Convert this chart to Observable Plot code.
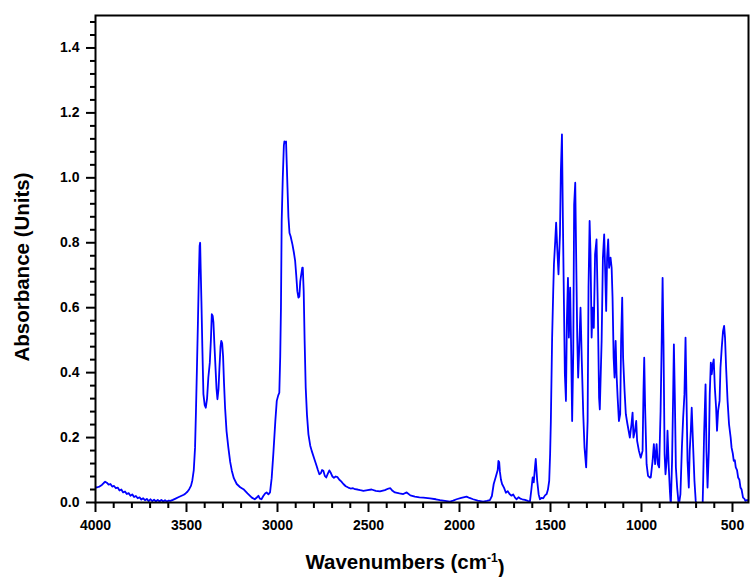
<!DOCTYPE html>
<html>
<head>
<meta charset="utf-8">
<script src="https://cdn.jsdelivr.net/npm/d3@7"></script>
<script src="https://cdn.jsdelivr.net/npm/@observablehq/plot@0.6"></script>
<style>
  html, body { margin: 0; padding: 0; background: white; }
  #chart { width: 750px; height: 577px; }
</style>
</head>
<body>
<div id="chart"></div>
<script>
// Spectrum values (wavenumber in cm-1, absorbance)
const wavenumber = [
  4000,3990,3978,3965,3955,3947,3938,3928,3918,3908,3898,3888,3878,3868,3858,3848,3838,3828,3818,3808,
  3798,3788,3778,3768,3758,3748,3738,3728,3718,3708,3698,3688,3678,3668,3658,3648,3638,3628,3618,3608,
  3598,3588,3575,3560,3545,3530,3515,3505,3495,3485,3475,3468,3460,3453,3448,3443,3437,3432,3428,3425,
  3422,3418,3413,3407,3400,3394,3387,3380,3372,3366,3361,3356,3352,3347,3341,3335,3330,3324,3319,3313,
  3309,3304,3299,3294,3288,3280,3270,3260,3251,3240,3224,3205,3187,3165,3141,3125,3112,3105,3097,3088,
  3078,3068,3060,3050,3041,3032,3023,3012,3004,2996,2990,2985,2981,2977,2971,2965,2962,2958,2953,2949,
  2945,2940,2934,2928,2918,2910,2903,2897,2891,2885,2880,2875,2870,2864,2861,2856,2851,2845,2838,2830,
  2820,2812,2798,2788,2778,2770,2762,2755,2748,2740,2732,2724,2715,2706,2698,2690,2680,2670,2660,2650,
  2638,2625,2611,2598,2585,2574,2560,2545,2528,2505,2483,2460,2437,2410,2390,2380,2368,2355,2330,2309,
  2290,2270,2245,2220,2199,2162,2130,2107,2080,2052,2035,2016,1990,1961,1945,1925,1900,1870,1850,1833,
  1822,1812,1800,1790,1786,1782,1778,1772,1766,1755,1745,1735,1725,1714,1705,1695,1686,1676,1666,1655,
  1640,1625,1613,1605,1598,1592,1585,1581,1577,1573,1565,1558,1550,1540,1530,1521,1514,1507,1502,1498,
  1491,1485,1481,1474,1469,1463,1456,1448,1443,1437,1432,1426,1421,1415,1410,1404,1399,1392,1386,1381,
  1375,1370,1364,1359,1353,1348,1342,1335,1328,1320,1313,1304,1296,1291,1285,1280,1274,1269,1262,1255,
  1247,1240,1233,1229,1219,1212,1205,1200,1194,1189,1183,1178,1170,1164,1159,1153,1148,1142,1137,1131,
  1124,1117,1112,1106,1101,1093,1086,1077,1064,1055,1049,1044,1036,1029,1024,1014,1004,994,989,985,
  980,972,964,954,949,939,932,925,917,910,903,895,890,884,879,873,868,862,857,850,
  844,839,832,826,822,817,811,804,795,786,778,771,764,758,753,747,740,735,729,724,
  716,709,702,690,675,664,661,656,648,643,637,630,625,619,614,608,603,597,590,585,
  579,571,566,559,552,546,541,535,527,519,510,505,498,493,487,482,475,469,462,456,
  450,442,435,429,420,412
];
const absorbance = [
  0.046,0.047,0.049,0.054,0.060,0.064,0.061,0.055,0.057,0.049,0.051,0.044,0.046,0.037,0.040,0.031,0.034,0.026,0.029,0.021,
  0.025,0.017,0.020,0.013,0.016,0.009,0.013,0.007,0.011,0.004,0.010,0.004,0.009,0.003,0.008,0.003,0.008,0.003,0.007,0.003,
  0.006,0.005,0.008,0.012,0.016,0.020,0.024,0.028,0.033,0.041,0.052,0.068,0.100,0.169,0.280,0.405,0.560,0.700,0.790,0.800,
  0.720,0.620,0.480,0.334,0.300,0.292,0.320,0.385,0.430,0.500,0.580,0.575,0.555,0.490,0.420,0.350,0.318,0.350,0.415,0.480,
  0.498,0.490,0.450,0.370,0.292,0.220,0.169,0.125,0.098,0.075,0.057,0.047,0.041,0.028,0.015,0.010,0.016,0.021,0.012,0.010,
  0.020,0.028,0.031,0.025,0.031,0.075,0.149,0.250,0.313,0.330,0.338,0.450,0.600,0.867,1.000,1.100,1.112,1.108,1.112,1.040,
  0.969,0.880,0.830,0.820,0.795,0.770,0.744,0.700,0.651,0.631,0.634,0.680,0.700,0.723,0.723,0.650,0.500,0.354,0.270,0.210,
  0.175,0.159,0.135,0.118,0.100,0.087,0.090,0.100,0.098,0.082,0.077,0.088,0.099,0.090,0.080,0.076,0.080,0.078,0.070,0.065,
  0.057,0.050,0.046,0.043,0.044,0.041,0.040,0.038,0.036,0.038,0.040,0.036,0.034,0.038,0.043,0.044,0.036,0.031,0.028,0.026,
  0.031,0.022,0.018,0.016,0.015,0.013,0.010,0.007,0.005,0.003,0.006,0.010,0.014,0.018,0.014,0.010,0.006,0.003,0.005,0.007,
  0.020,0.057,0.080,0.100,0.128,0.125,0.095,0.070,0.057,0.045,0.030,0.035,0.026,0.021,0.025,0.015,0.010,0.016,0.012,0.010,
  0.008,0.005,0.003,0.040,0.077,0.062,0.110,0.134,0.100,0.067,0.025,0.010,0.014,0.013,0.022,0.026,0.040,0.067,0.150,0.251,
  0.508,0.650,0.734,0.805,0.862,0.785,0.703,0.826,1.021,1.134,0.877,0.610,0.395,0.313,0.559,0.692,0.508,0.662,0.457,0.251,
  0.457,0.918,0.985,0.764,0.508,0.385,0.477,0.600,0.436,0.272,0.169,0.108,0.251,0.662,0.867,0.764,0.508,0.600,0.538,0.764,
  0.810,0.600,0.323,0.287,0.498,0.754,0.826,0.723,0.590,0.754,0.810,0.723,0.754,0.723,0.631,0.446,0.385,0.498,0.395,0.323,
  0.251,0.272,0.498,0.631,0.446,0.344,0.272,0.241,0.200,0.241,0.277,0.200,0.221,0.251,0.190,0.159,0.138,0.159,0.344,0.446,
  0.292,0.118,0.082,0.077,0.077,0.128,0.180,0.118,0.180,0.118,0.108,0.282,0.457,0.692,0.487,0.149,0.087,0.128,0.221,0.108,
  0.036,-0.010,0.128,0.333,0.487,0.333,0.108,0.046,-0.010,0.026,0.169,0.262,0.333,0.508,0.333,0.128,0.046,0.159,0.221,0.292,
  0.169,0.067,0.005,-0.030,-0.030,-0.005,0.067,0.210,0.364,0.159,0.046,0.159,0.333,0.431,0.395,0.426,0.441,0.354,0.292,0.221,
  0.282,0.313,0.415,0.477,0.528,0.544,0.508,0.415,0.313,0.241,0.200,0.169,0.150,0.128,0.130,0.108,0.100,0.077,0.070,0.046,
  0.040,0.015,0.012,0.005,0.008,0.005
];

// Axis ticks
const xMajorTicks = [4000, 3500, 3000, 2500, 2000, 1500, 1000, 500];
const xMinorTicks = d3.range(500, 4001, 100).filter(v => v % 500 !== 0);
const yMajorTicks = [0, 0.2, 0.4, 0.6, 0.8, 1.0, 1.2, 1.4];
const yMinorTicks = d3.range(1, 38).map(i => +(i * 0.04).toFixed(2)).filter(v => Math.abs(v / 0.2 - Math.round(v / 0.2)) > 1e-6);

const xTitle = "Wavenumbers (cm-1)";
const yTitle = "Absorbance (Units)";

const spectrum = wavenumber.map((w, i) => ({w, a: absorbance[i]}));

const chart = Plot.plot({
  width: 750,
  height: 577,
  marginLeft: 95,
  marginRight: 2,
  marginTop: 15,
  marginBottom: 75,
  x: {domain: [4000, 412]},
  y: {domain: [0, 1.5]},
  style: {fontFamily: "'Liberation Sans', Arial, sans-serif", background: "white", color: "black"},
  marks: [
    Plot.line(spectrum, {x: "w", y: "a", stroke: "#0000ff", strokeWidth: 1.8, clip: true}),
    Plot.frame({stroke: "black", strokeWidth: 2}),
    Plot.axisX({ticks: xMinorTicks, tickSize: 6, strokeWidth: 2, text: null, label: null}),
    Plot.axisX({ticks: xMajorTicks, tickSize: 10, tickPadding: 8, strokeWidth: 2, tickFormat: d => String(d),
      fontSize: 14, fontWeight: "bold", label: null}),
    Plot.axisY({ticks: yMinorTicks, tickSize: 5, strokeWidth: 2, text: null, label: null}),
    Plot.axisY({ticks: yMajorTicks, tickSize: 9, tickPadding: 7, strokeWidth: 2, tickFormat: d3.format(".1f"),
      fontSize: 14, fontWeight: "bold", label: null}),
    Plot.text([xTitle], {frameAnchor: "bottom", dx: -17, dy: 60, lineAnchor: "middle", textAnchor: "middle",
      text: d => d, fontSize: 20.5, fontWeight: "bold", fill: "black"}),
    Plot.text([yTitle], {frameAnchor: "left", dx: -73, dy: 8, rotate: -90, lineAnchor: "middle", textAnchor: "middle",
      text: d => d, fontSize: 20.5, fontWeight: "bold", fill: "black"})
  ]
});

document.getElementById("chart").appendChild(chart);

// Render the "-1" of the x title as a superscript
d3.select(chart).selectAll("text").each(function() {
  const t = d3.select(this);
  if (t.text() === xTitle) {
    t.text(null);
    t.append("tspan").text("Wavenumbers (cm");
    t.append("tspan").attr("dy", "-0.55em").attr("font-size", 12).text("-1");
    t.append("tspan").attr("dy", "0.55em").text(")");
  }
});
</script>
</body>
</html>
